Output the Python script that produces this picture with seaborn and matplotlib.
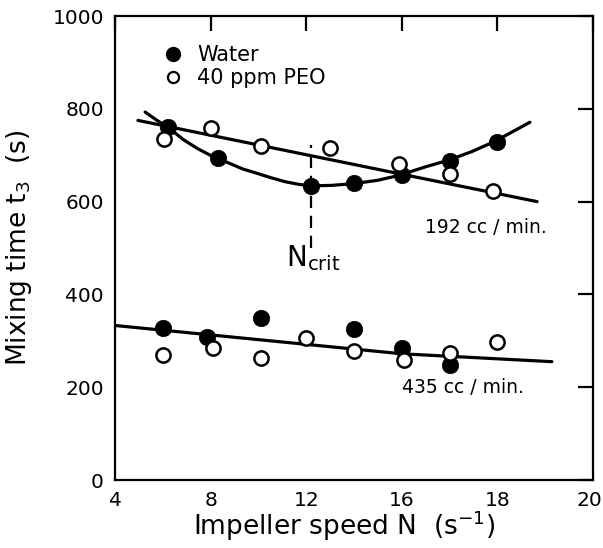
import numpy as np
import pandas as pd
import matplotlib
matplotlib.use("Agg")
import matplotlib.pyplot as plt
import matplotlib.transforms as mtransforms
from matplotlib.lines import Line2D
import seaborn as sns

# ---------------- data ----------------
x_ticks = [4, 8, 12, 16, 18, 20]
y_ticks = [0, 200, 400, 600, 800, 1000]
y_ticklabels = ["0", "200", "400", "600", "800", "1000"]

# 192 cc/min
water192_x = [6.2, 8.3, 12.2, 14.0, 16.0, 17.0, 18.0]
water192_y = [760, 695, 633, 641, 657, 687, 728]
peo192_x = [6.05, 8.0, 10.1, 13.0, 15.9, 17.0, 17.9]
peo192_y = [734, 758, 719, 715, 682, 659, 622]

# 435 cc/min
water435_x = [6.0, 7.85, 10.1, 14.0, 16.0, 17.0]
water435_y = [328, 309, 350, 326, 285, 248]
peo435_x = [6.0, 8.1, 10.1, 12.0, 14.0, 16.05, 17.0, 18.0]
peo435_y = [270, 285, 264, 305, 278, 259, 274, 298]

# drawn curves
curve_water192_x = [5.26, 5.76, 6.22, 6.85, 7.43, 7.98, 8.31, 8.81, 9.36, 9.94,
                    10.49, 11.11, 11.7, 12.24, 13.07, 14.04, 15.0, 15.84, 16.53, 16.97,
                    17.47, 17.95, 18.68]
curve_water192_y = [793, 775, 760, 734, 715, 700, 693, 682, 670, 661,
                    652, 643, 637, 634, 635, 639, 646, 656, 676, 689,
                    708, 730, 771]
line_peo192_x = [4.96, 16.0, 18.83]
line_peo192_y = [775, 659, 600]
line_435_x = [4.0, 16.0, 19.14]
line_435_y = [333, 272, 255]

n_crit = 12.2
n_crit_span = [500, 721]

# ---------------- style ----------------
sns.set_theme(style="white")
FONT = "DejaVu Sans"
plt.rcParams["font.family"] = [FONT]
plt.rcParams["mathtext.fontset"] = "custom"
plt.rcParams["mathtext.rm"] = FONT
plt.rcParams["mathtext.it"] = FONT
plt.rcParams["mathtext.default"] = "rm"
plt.rcParams["text.color"] = "black"
plt.rcParams["axes.labelcolor"] = "black"
plt.rcParams["xtick.color"] = "black"
plt.rcParams["ytick.color"] = "black"

fig = plt.figure(figsize=(6.03, 5.48), dpi=100)
ax = fig.add_axes([115 / 603, 1 - 480 / 548, 478 / 603, 464 / 548])

# piecewise axis scale matching the printed tick labels
POS = [0, 1, 2, 3, 4, 5]
def fwd(v):
    return np.interp(v, x_ticks, POS)
def inv(p):
    return np.interp(p, POS, x_ticks)

LW = 2.3
sns.lineplot(x=curve_water192_x, y=curve_water192_y, ax=ax, color="black", lw=LW, sort=False)
sns.lineplot(x=line_peo192_x, y=line_peo192_y, ax=ax, color="black", lw=LW, sort=False)
sns.lineplot(x=line_435_x, y=line_435_y, ax=ax, color="black", lw=LW, sort=False)

ax.plot([n_crit, n_crit], n_crit_span, color="black", lw=1.6, ls=(0, (5.5, 3.5)))

filled_kw = dict(s=140, color="black", edgecolor="black", linewidth=0.5, zorder=5)
open_kw = dict(s=105, facecolor="white", edgecolor="black", linewidth=1.8, zorder=5)
sns.scatterplot(x=water192_x, y=water192_y, ax=ax, **filled_kw)
sns.scatterplot(x=water435_x, y=water435_y, ax=ax, **filled_kw)
sns.scatterplot(x=peo192_x, y=peo192_y, ax=ax, **open_kw)
sns.scatterplot(x=peo435_x, y=peo435_y, ax=ax, **open_kw)

ax.set_xscale("function", functions=(fwd, inv))
ax.set_xlim(4, 20)
ax.set_ylim(0, 1000)
ax.set_xticks(x_ticks)
ax.set_xticklabels([str(t) for t in x_ticks])
ax.set_yticks(y_ticks)
ax.set_yticklabels(y_ticklabels)
ax.xaxis.set_minor_locator(matplotlib.ticker.NullLocator())

for sp in ax.spines.values():
    sp.set_visible(True)
    sp.set_color("black")
    sp.set_linewidth(1.6)

ax.tick_params(axis="both", which="major", direction="in", length=11, width=1.6,
               top=True, right=True, labelsize=14.5, colors="black", pad=8)

# keep the last x tick label inside the figure
last = ax.get_xticklabels()[-1]
last.set_transform(last.get_transform() + mtransforms.ScaledTranslation(-4 / 100, 0, fig.dpi_scale_trans))

ax.set_xlabel("Impeller speed N  (s$^{-1}$)", fontsize=19, color="black")
ax.set_ylabel("Mixing time t$_3$  (s)", fontsize=19, color="black")
ax.xaxis.set_label_coords(0.48, -0.062)
ax.yaxis.set_label_coords(-0.17, 0.5)

ax.text(16.48, 544, "192 cc / min.", fontsize=13.5, ha="left", va="center", color="black")
ax.text(16.0, 199, "435 cc / min.", fontsize=13.5, ha="left", va="center", color="black")
ax.text(12.3, 478, "N$_{\\mathrm{crit}}$", fontsize=20, ha="center", va="center", color="black")

handles = [
    Line2D([], [], marker="o", ls="none", color="black", markersize=10),
    Line2D([], [], marker="o", ls="none", markerfacecolor="white",
           markeredgecolor="black", markeredgewidth=1.6, markersize=8),
]
leg = ax.legend(handles, ["Water", "40 ppm PEO"], loc="upper left",
                bbox_to_anchor=(0.083, 0.955), frameon=False, fontsize=15,
                handlelength=1.0, handletextpad=0.65, labelspacing=0.15, borderaxespad=0)
for t in leg.get_texts():
    t.set_color("black")

fig.savefig("out.png", dpi=100, facecolor="white")
